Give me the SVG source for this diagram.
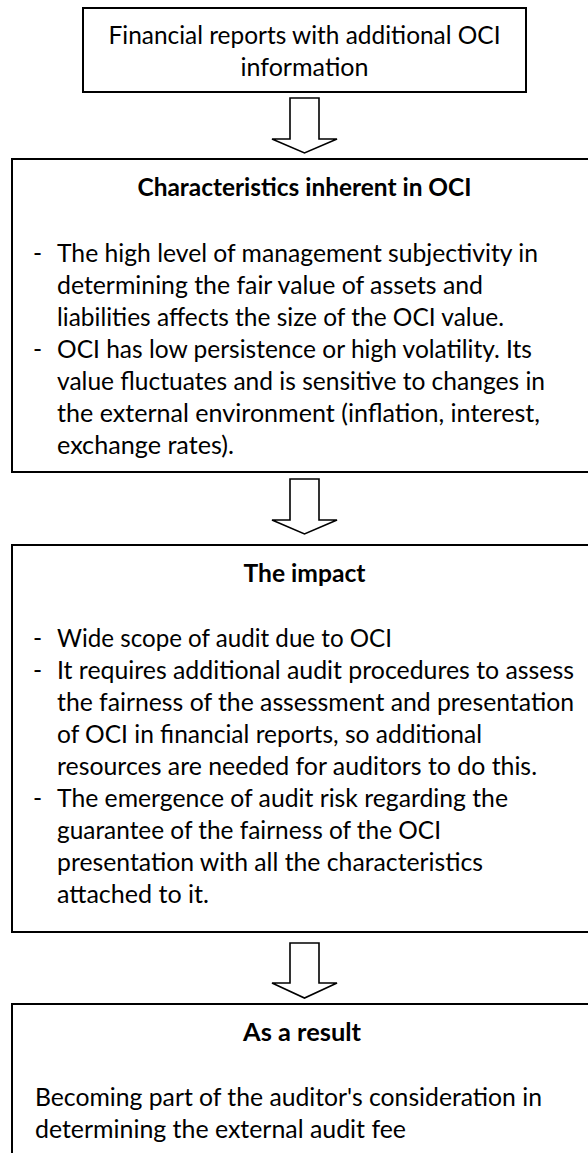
<svg xmlns="http://www.w3.org/2000/svg" width="588" height="1153" viewBox="0 0 588 1153">
  <style>
    .box { fill: #ffffff; stroke: #000000; stroke-width: 2; }
    .arrow { fill: #ffffff; stroke: #000000; stroke-width: 1.6; stroke-linejoin: miter; }
    text { font-family: Lato, "Liberation Sans", sans-serif; font-size: 24.5px; fill: #000000; }
    .title { font-weight: bold; text-anchor: middle; }
    .mid { text-anchor: middle; }
  </style>
  <rect x="0" y="0" width="588" height="1153" fill="#ffffff"/>

  <!-- Connectors: hollow block arrows between the boxes -->
  <g id="connectors">
    <path class="arrow" d="M290,98 H319 V139 H337 L304.5,153 L272,139 H290 Z"/>
    <path class="arrow" d="M290,479 H319 V520 H337 L304.5,534 L272,520 H290 Z"/>
    <path class="arrow" d="M290,943 H319 V983 H337 L304.5,998 L272,983 H290 Z"/>
  </g>

  <g id="node-reports">
    <rect class="box" x="83" y="8" width="443" height="84"/>
    <text class="mid" x="304.5" y="44" textLength="392" lengthAdjust="spacingAndGlyphs">Financial reports with additional OCI</text>
    <text class="mid" x="304.5" y="76" textLength="128" lengthAdjust="spacingAndGlyphs">information</text>
  </g>

  <g id="node-characteristics">
    <rect class="box" x="12" y="159" width="600" height="313"/>
    <text class="title" x="304.5" y="196" textLength="334" lengthAdjust="spacingAndGlyphs">Characteristics inherent in OCI</text>
    <text x="33" y="262">-</text>
    <text x="57" y="262" textLength="481" lengthAdjust="spacingAndGlyphs">The high level of management subjectivity in</text>
    <text x="57" y="294" textLength="426" lengthAdjust="spacingAndGlyphs">determining the fair value of assets and</text>
    <text x="57" y="326" textLength="447" lengthAdjust="spacingAndGlyphs">liabilities affects the size of the OCI value.</text>
    <text x="33" y="358">-</text>
    <text x="57" y="358" textLength="475" lengthAdjust="spacingAndGlyphs">OCI has low persistence or high volatility. Its</text>
    <text x="57" y="390" textLength="488" lengthAdjust="spacingAndGlyphs">value fluctuates and is sensitive to changes in</text>
    <text x="57" y="422" textLength="483" lengthAdjust="spacingAndGlyphs">the external environment (inflation, interest,</text>
    <text x="57" y="454" textLength="177" lengthAdjust="spacingAndGlyphs">exchange rates).</text>
  </g>

  <g id="node-impact">
    <rect class="box" x="12" y="545" width="600" height="387"/>
    <text class="title" x="304.5" y="582" textLength="122" lengthAdjust="spacingAndGlyphs">The impact</text>
    <text x="33" y="647">-</text>
    <text x="57" y="647" textLength="335" lengthAdjust="spacingAndGlyphs">Wide scope of audit due to OCI</text>
    <text x="33" y="679">-</text>
    <text x="57" y="679" textLength="517" lengthAdjust="spacingAndGlyphs">It requires additional audit procedures to assess</text>
    <text x="57" y="711" textLength="517" lengthAdjust="spacingAndGlyphs">the fairness of the assessment and presentation</text>
    <text x="57" y="743" textLength="425" lengthAdjust="spacingAndGlyphs">of OCI in financial reports, so additional</text>
    <text x="57" y="775" textLength="480" lengthAdjust="spacingAndGlyphs">resources are needed for auditors to do this.</text>
    <text x="33" y="807">-</text>
    <text x="57" y="807" textLength="451" lengthAdjust="spacingAndGlyphs">The emergence of audit risk regarding the</text>
    <text x="57" y="839" textLength="384" lengthAdjust="spacingAndGlyphs">guarantee of the fairness of the OCI</text>
    <text x="57" y="871" textLength="426" lengthAdjust="spacingAndGlyphs">presentation with all the characteristics</text>
    <text x="57" y="903" textLength="152" lengthAdjust="spacingAndGlyphs">attached to it.</text>
  </g>

  <g id="node-result">
    <rect class="box" x="12" y="1004" width="600" height="200"/>
    <text class="title" x="302" y="1041" textLength="118" lengthAdjust="spacingAndGlyphs">As a result</text>
    <text x="35" y="1106" textLength="507" lengthAdjust="spacingAndGlyphs">Becoming part of the auditor's consideration in</text>
    <text x="35" y="1138" textLength="371" lengthAdjust="spacingAndGlyphs">determining the external audit fee</text>
  </g>
</svg>
